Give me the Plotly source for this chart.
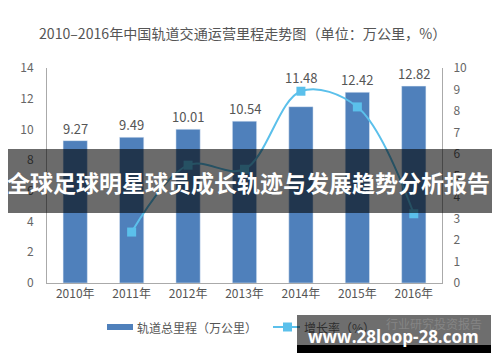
import plotly.graph_objects as go

years = ["2010年", "2011年", "2012年", "2013年", "2014年", "2015年", "2016年"]
mileage = [9.27, 9.49, 10.01, 10.54, 11.48, 12.42, 12.82]
growth_years = ["2011年", "2012年", "2013年", "2014年", "2015年", "2016年"]
growth = [2.37, 5.48, 5.29, 8.92, 8.19, 3.22]

title_text = "2010–2016年中国轨道交通运营里程走势图（单位：万公里，%）"
legend_bar = "轨道总里程（万公里）"
legend_line = "增长率（%）"
banner_text = "全球足球明星球员成长轨迹与发展趋势分析报告"
wm_text = "www.28loop-28.com"
wm_sub = "行业研究投资报告"

W, H = 500, 362
L, R, T, B = 47, 58, 68, 79
PW, PH = W - L - R, H - T - B

def px(x):
    return (x - L) / PW

def py(y):
    return (H - B - y) / PH

FONT = "Noto Sans CJK SC, Roboto, sans-serif"
BAR_C = "#4f80bb"
LINE_C = "#5bc0eb"

fig = go.Figure()
fig.add_trace(go.Bar(
    x=years, y=mileage, marker_color=BAR_C, width=0.43,
    showlegend=False, hoverinfo="skip",
))
fig.add_trace(go.Scatter(
    x=growth_years, y=growth, yaxis="y2", mode="lines+markers",
    line=dict(color=LINE_C, width=2, shape="spline", smoothing=1.0),
    marker=dict(symbol="square", size=9, color=LINE_C),
    showlegend=False, hoverinfo="skip",
))

shapes = []
ann = []

# bar value labels (label above 2014 is lifted clear of the line, as in the source)
label_lift = {"2014年": 17}
for yr, v in zip(years, mileage):
    ann.append(dict(text=f"{v:.2f}", x=yr, y=v, xref="x", yref="y",
                    xanchor="center", yanchor="bottom", yshift=1 + label_lift.get(yr, 0),
                    showarrow=False, font=dict(size=13, color="#555555", family=FONT)))

def note(text, x, y, size, color, xanchor="center", family=FONT):
    ann.append(dict(text=text, x=px(x), y=py(y), xref="paper", yref="paper",
                    xanchor=xanchor, yanchor="middle", showarrow=False,
                    font=dict(size=size, color=color, family=family)))

# title
note(title_text, 242, 33, 14.1, "#555555")
# legend
shapes.append(dict(type="rect", xref="paper", yref="paper", x0=px(107), x1=px(133),
                   y0=py(324), y1=py(330), fillcolor=BAR_C, line_width=0))
note(legend_bar, 135, 327, 12, "#555555", xanchor="left")
shapes.append(dict(type="line", xref="paper", yref="paper", x0=px(273), x1=px(300),
                   y0=py(327), y1=py(327), line=dict(color=LINE_C, width=2)))
shapes.append(dict(type="rect", xref="paper", yref="paper", x0=px(283), x1=px(292),
                   y0=py(322.5), y1=py(331.5), fillcolor=LINE_C, line_width=0))
note(legend_line, 302, 327, 12, "#2e2e2e", xanchor="left")
# banner overlay
shapes.append(dict(type="rect", xref="paper", yref="paper", x0=px(8), x1=px(492),
                   y0=py(213), y1=py(149), fillcolor="rgba(0,0,0,0.58)", line_width=0, layer="above"))
note("<b>" + banner_text + "</b>", 249, 182, 23, "white")
# watermark
shapes.append(dict(type="rect", xref="paper", yref="paper", x0=px(297), x1=px(491),
                   y0=py(345), y1=py(315), fillcolor="rgba(0,0,0,0.57)", line_width=0, layer="above"))
shapes.append(dict(type="rect", xref="paper", yref="paper", x0=px(297), x1=px(491),
                   y0=py(353), y1=py(345), fillcolor="black", line_width=0, layer="above"))
note(wm_sub, 484, 323, 12, "#858585", xanchor="right")
note("<b>" + wm_text + "</b>", 393, 336, 17, "white", family="Open Sans, DejaVu Sans, sans-serif")

fig.update_layout(
    width=W, height=H, margin=dict(l=L, r=R, t=T, b=B),
    paper_bgcolor="white", plot_bgcolor="white",
    font=dict(family=FONT, color="#666666", size=12),
    xaxis=dict(showline=True, linecolor="#aaaaaa", linewidth=1, ticks="",
               tickfont=dict(size=12, color="#555555"), showgrid=False),
    yaxis=dict(range=[0, 14], dtick=2, showline=True, linecolor="#aaaaaa", showgrid=False,
               zeroline=False, ticklabelstandoff=10,
               tickfont=dict(size=12, color="#666666")),
    yaxis2=dict(range=[0, 10], dtick=1, overlaying="y", side="right", showline=True,
                linecolor="#aaaaaa", showgrid=False, zeroline=False, ticklabelstandoff=8,
                tickfont=dict(size=12, color="#666666")),
    shapes=shapes, annotations=ann,
)

fig.write_html("out.html", config={"displayModeBar": False},
               post_script="document.body.style.margin='0';")
